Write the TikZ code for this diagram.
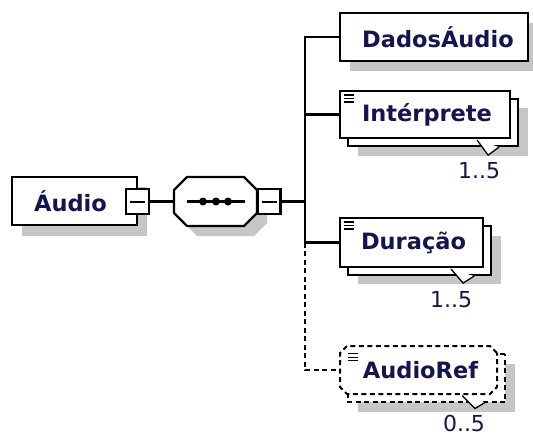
\documentclass[tikz,border=0pt]{standalone}
\usepackage{fontspec}
\setmainfont{DejaVu Sans}
\usetikzlibrary{shapes.misc}
\definecolor{ink}{RGB}{20,20,80}
\definecolor{shade}{RGB}{198,198,198}

\begin{document}
\begin{tikzpicture}[x=1pt,y=-1pt,
  edge/.style={line width=2.2pt},
  optedge/.style={line width=2pt, dash pattern=on 5pt off 3.5pt},
  elembox/.style={draw, fill=white, line width=2.2pt, inner sep=0pt,
    font=\fontsize{22.5}{24}\selectfont\bfseries, text=ink},
  optbox/.style={elembox, chamfered rectangle, chamfered rectangle xsep=3.5pt,
    chamfered rectangle ysep=3.5pt, line width=2pt, dash pattern=on 5pt off 3.5pt},
  shadowbox/.style={fill=shade},
  minusbox/.style={draw, fill=white, line width=2.2pt, minimum width=23pt,
    minimum height=25pt, inner sep=0pt},
  mult/.style={font=\fontsize{22}{24}\selectfont, text=ink, inner sep=0pt},
  textlines/.style={line width=1.2pt},
  tip/.style={draw, fill=white, line width=1.3pt},
  octagon/.pic={\path[pic actions] (-41.5,-11.5) -- (-28.5,-24.5) -- (28.5,-24.5) -- (41.5,-11.5)
      -- (41.5,11.5) -- (28.5,24.5) -- (-28.5,24.5) -- (-41.5,11.5) -- cycle;}
]
\useasboundingbox (0,0) rectangle (533,436);

% drop shadows
\fill[shadowbox] (22,187) rectangle (147,236);
\pic[fill=shade] at (225.5,211.5) {octagon};
\fill[shadowbox] (350,23) rectangle (533,71);
\fill[shadowbox] (358,108) rectangle (528,156);
\fill[shadowbox] (358,236) rectangle (501,284);
\fill[shadowbox] (358,364) rectangle (515,412);

% root element and its sequence compositor
\node[elembox, minimum width=125pt, minimum height=48pt] (audio) at (74.5,201) {Áudio\hspace*{8pt}};
\node[minusbox] (audio-minus) at (137.5,201.5) {};
\draw[line width=2pt] ([xshift=-7.5pt]audio-minus.center) -- ([xshift=7.5pt]audio-minus.center);

\pic[draw, fill=white, line width=2.2pt] at (215.5,201.5) {octagon};
\node[minimum width=83pt, minimum height=49pt, inner sep=0pt] (seq) at (215.5,201.5) {};
\draw[line width=2.2pt] ([xshift=-28.5pt]seq.center) -- ([xshift=29.5pt]seq.center);
\foreach \dx in {-12.5,0.5,12.5}
  \fill ([xshift=\dx pt]seq.center) circle (4pt);
\node[minusbox] (seq-minus) at (269,201.5) {};
\draw[line width=2pt] ([xshift=-7.5pt]seq-minus.center) -- ([xshift=7.5pt]seq-minus.center);

% child elements
\node[elembox, minimum width=188pt, minimum height=48pt] (dados) at (434,37) {\hspace*{8pt}DadosÁudio};

\node[elembox, minimum width=170pt, minimum height=47pt] (interp-back) at (433,122.5) {};
\filldraw[tip] ([shift={(-42,-7)}]interp-back.south east) -- ([shift={(-31,8)}]interp-back.south east) -- ([shift={(-20,0)}]interp-back.south east);
\node[elembox, minimum width=170pt, minimum height=47pt] (interp) at (425,114.5) {\hspace*{4pt}Intérprete};
\node[mult] (interp-mult) at ([shift={(-40,24)}]interp-back.south east) {1..5};

\node[elembox, minimum width=143pt, minimum height=49pt] (durac-back) at (419.5,250.5) {};
\filldraw[tip] ([shift={(-41,-7)}]durac-back.south east) -- ([shift={(-29,7)}]durac-back.south east) -- ([shift={(-18,0)}]durac-back.south east);
\node[elembox, minimum width=143pt, minimum height=49pt] (durac) at (411.5,242.5) {\hspace*{4pt}Duração};
\node[mult] (durac-mult) at ([shift={(-41,24)}]durac-back.south east) {1..5};

\node[optbox, minimum width=157pt, minimum height=48pt] (aref-back) at (426.5,378) {};
\filldraw[tip] ([shift={(-43,-7)}]aref-back.south east) -- ([shift={(-30,6)}]aref-back.south east) -- ([shift={(-20,0)}]aref-back.south east);
\node[optbox, minimum width=157pt, minimum height=48pt] (aref) at (418.5,370) {\hspace*{4pt}AudioRef};
\node[mult] (aref-mult) at ([shift={(-41,21)}]aref-back.south east) {0..5};

% text-content marks in the upper left corners
\foreach \n in {interp,durac,aref}
  \foreach \dy in {5,8.5,12}
    \draw[textlines] ([shift={(5,\dy)}]\n.north west) -- ++(10,0);

% connectors
\coordinate (tj) at (305,201.5);
\draw[edge] (audio-minus.east) -- (seq.west);
\draw[edge] (seq-minus.east) -- (tj);
\draw[edge] (dados.west) -- (dados.west -| tj) -- (durac.west -| tj) -- (durac.west);
\draw[edge] (interp.west) -- (interp.west -| tj);
\draw[optedge] (durac.west -| tj) -- (aref.west -| tj) -- (aref.west);
\end{tikzpicture}
\end{document}
